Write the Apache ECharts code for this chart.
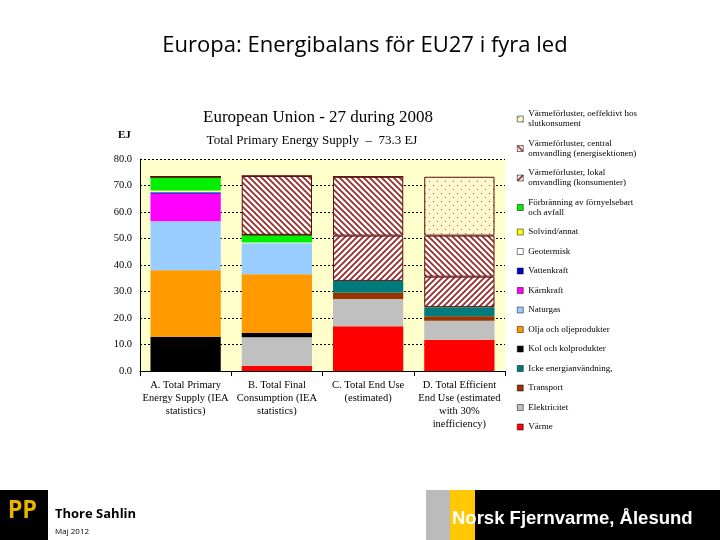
<!DOCTYPE html>
<html><head><meta charset="utf-8">
<script src="https://cdn.jsdelivr.net/npm/echarts@6/dist/echarts.min.js"></script>
<style>html,body{margin:0;padding:0;background:#fff}#c{width:720px;height:540px}</style>
</head><body><div id="c"></div>
<script>
const categories = ['A. Total Primary\nEnergy Supply (IEA\nstatistics)', 'B. Total Final\nConsumption (IEA\nstatistics)', 'C. Total End Use\n(estimated)', 'D. Total Efficient\nEnd Use (estimated\nwith 30%\ninefficiency)'];
const yTicks = [0, 10, 20, 30, 40, 50, 60, 70, 80];
// stacking order bottom -> top
const seriesNames = ['Värme', 'Elektricitet', 'Transport', 'Icke energianvändning,', 'Kol och kolprodukter', 'Olja och oljeprodukter', 'Naturgas', 'Kärnkraft', 'Vattenkraft', 'Geotermisk', 'Solvind/annat', 'Förbränning av förnyelsebart\noch avfall', 'Värmeförluster, lokal\nomvandling (konsumenter)', 'Värmeförluster, central\nomvandling (energisektionen)', 'Värmeförluster, oeffektivt hos\nslutkonsument'];
const vVarme = [0, 2.0, 16.9, 11.8];
const vEl = [0, 10.7, 10.3, 7.2];
const vTransport = [0, 0, 2.3, 1.7];
const vIcke = [0, 0, 4.5, 3.4];
const vKol = [12.9, 1.6, 0, 0];
const vOlja = [25.1, 22.2, 0, 0];
const vGas = [18.5, 11.7, 0, 0];
const vKarn = [10.4, 0, 0, 0];
const vVatten = [0.6, 0, 0, 0];
const vGeo = [0.3, 0.3, 0, 0];
const vSol = [0.3, 0, 0, 0];
const vForbr = [5.2, 2.9, 0, 0];
const vLokal = [0, 0, 17.1, 11.5];
const vCentral = [0, 22.2, 22.2, 15.5];
const vIneff = [0, 0, 0, 22.2];
const allValues = [vVarme, vEl, vTransport, vIcke, vKol, vOlja, vGas, vKarn, vVatten, vGeo, vSol, vForbr, vLokal, vCentral, vIneff];

function pattern(kind) {
  const c = document.createElement('canvas');
  c.width = 6; c.height = 6;
  const g = c.getContext('2d');
  if (kind === 'dots') {
    c.width = 8; c.height = 8;
    g.fillStyle = '#fff8cc'; g.fillRect(0, 0, 8, 8);
    g.fillStyle = '#b05050'; g.fillRect(1, 1, 1, 1); g.fillRect(5, 5, 1, 1);
  } else {
    g.fillStyle = '#ffffff'; g.fillRect(0, 0, 6, 6);
    g.strokeStyle = '#9b2a2a'; g.lineWidth = 1.8;
    g.beginPath();
    if (kind === 'back') { g.moveTo(-2, -2); g.lineTo(8, 8); g.moveTo(-5, 1); g.lineTo(1, 7); g.moveTo(1, -5); g.lineTo(7, 1); }
    else { g.moveTo(-2, 8); g.lineTo(8, -2); g.moveTo(-5, 5); g.lineTo(5, -5); g.moveTo(1, 11); g.lineTo(11, 1); }
    g.stroke();
  }
  return { image: c, repeat: 'repeat' };
}
const colors = ['#ff0000', '#c0c0c0', '#993300', '#007b7b', '#000000', '#ff9900', '#99ccff', '#ff00ff', '#0000cc', '#ffffff', '#ffff00', '#00ee00', pattern('fwd'), pattern('back'), pattern('dots')];

const chart = echarts.init(document.getElementById('c'));
const serif = 'Liberation Serif';
chart.setOption({
  animation: false,
  title: [
    { text: 'Europa: Energibalans för EU27 i fyra led', left: 360, textAlign: 'center', top: 30, textStyle: { fontFamily: 'Open Sans', fontWeight: 'normal', fontSize: 22, color: '#000' } },
    { text: 'European Union - 27 during 2008', left: 313, textAlign: 'center', top: 104, textStyle: { fontFamily: serif, fontWeight: 'normal', fontSize: 17, color: '#000' } },
    { text: 'Total Primary Energy Supply  \u2013  73.3 EJ', left: 307, textAlign: 'center', top: 129, textStyle: { fontFamily: serif, fontWeight: 'normal', fontSize: 13, color: '#000' } },
    { text: 'EJ', left: 113, top: 125, textStyle: { fontFamily: serif, fontWeight: 'bold', fontSize: 11, color: '#000' } }
  ],
  legend: {
    orient: 'vertical', left: 512, top: 104, itemWidth: 6, itemHeight: 6, itemGap: 9.5,
    icon: 'rect',
    data: seriesNames.slice().reverse(),
    textStyle: { fontFamily: serif, fontSize: 9, lineHeight: 10, color: '#000' },
    itemStyle: { borderColor: '#000', borderWidth: 0.5 }
  },
  grid: { left: 140, right: 215, top: 159, bottom: 169, show: true, backgroundColor: '#ffffcc', borderWidth: 0 },
  xAxis: {
    type: 'category', data: categories,
    axisLine: { lineStyle: { color: '#000' } }, axisTick: { show: true, lineStyle: { color: '#000' } },
    axisLabel: { fontFamily: serif, fontSize: 10.5, lineHeight: 13, color: '#000', interval: 0, margin: 8 }
  },
  yAxis: {
    type: 'value', min: yTicks[0], max: yTicks[yTicks.length - 1], interval: 10,
    axisLine: { show: true, lineStyle: { color: '#000' } }, axisTick: { show: false },
    axisLabel: { fontFamily: serif, fontSize: 10.5, color: '#000', formatter: v => v.toFixed(1) },
    splitLine: { lineStyle: { color: '#000', type: [2, 2] } }
  },
  series: seriesNames.map((n, i) => ({
    name: n, type: 'bar', stack: 'all', barWidth: '77%', data: allValues[i],
    itemStyle: { color: colors[i], borderColor: i >= 12 ? '#5a1010' : undefined, borderWidth: i >= 12 ? 1 : 0 }
  })),
  graphic: [
    { type: 'rect', shape: { x: 0, y: 490, width: 48, height: 50 }, style: { fill: '#000' } },
    { type: 'text', style: { x: 8, y: 500, text: 'PP', fill: '#e8b400', font: 'bold 24px DejaVu Sans Mono' } },
    { type: 'text', style: { x: 55, y: 508, text: 'Thore Sahlin', fill: '#000', font: 'bold 13px Open Sans' } },
    { type: 'text', style: { x: 55, y: 528, text: 'Maj 2012', fill: '#000', font: '8px Open Sans' } },
    { type: 'rect', shape: { x: 426, y: 490, width: 24, height: 50 }, style: { fill: '#bbbbbb' } },
    { type: 'rect', shape: { x: 450, y: 490, width: 25, height: 50 }, style: { fill: '#ffc800' } },
    { type: 'rect', shape: { x: 475, y: 490, width: 245, height: 50 }, style: { fill: '#000' } },
    { type: 'text', style: { x: 452, y: 509, text: 'Norsk Fjernvarme, Ålesund', fill: '#fff', font: 'bold 18.5px Liberation Sans' } }
  ]
});
</script></body></html>
